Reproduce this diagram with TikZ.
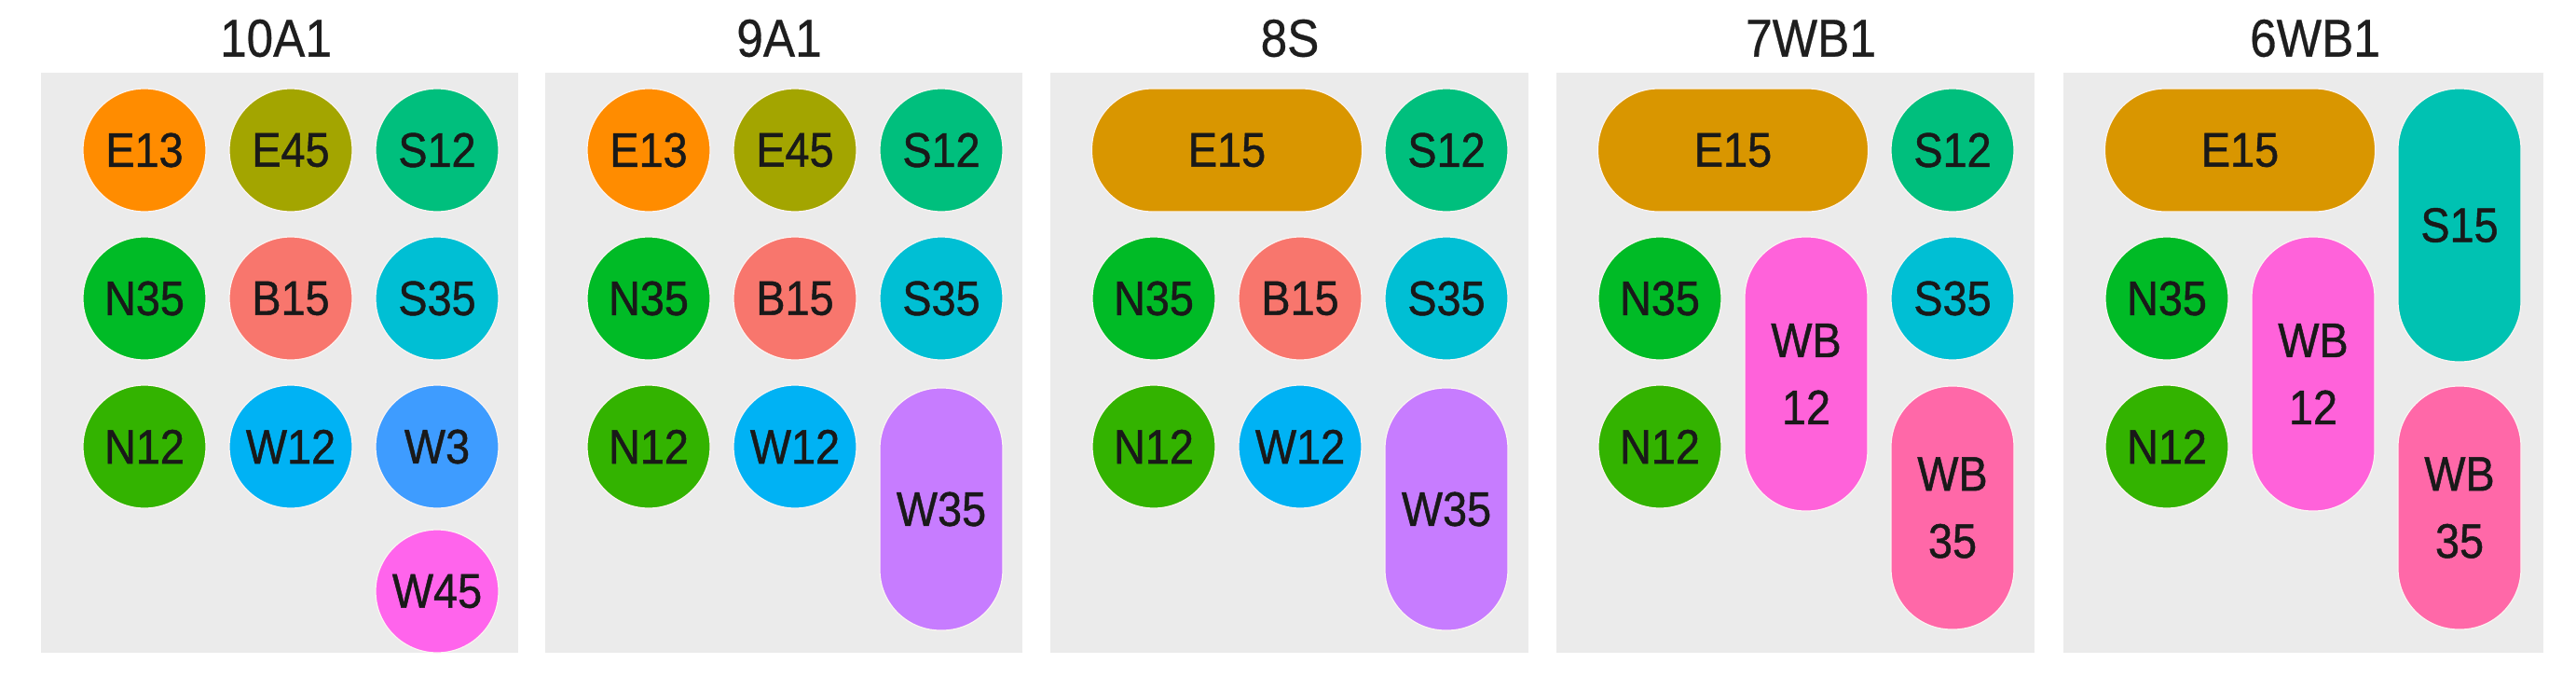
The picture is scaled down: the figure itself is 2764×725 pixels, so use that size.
\documentclass[tikz,border=0pt]{standalone}
\usepackage{fontspec}
\setmainfont{Liberation Sans}[FakeStretch=0.9]
\newfontfamily\lblfont{Liberation Sans}[FakeStretch=0.9, FakeBold=0.9]
\newfontfamily\ttlfont{Liberation Sans}[FakeStretch=0.9, FakeBold=0.5]
\definecolor{panelbg}{HTML}{EBEBEB}
\definecolor{cE13}{HTML}{FF8C00}
\definecolor{cE45}{HTML}{A3A500}
\definecolor{cS12}{HTML}{00BF7D}
\definecolor{cN35}{HTML}{00BB26}
\definecolor{cN12}{HTML}{33B300}
\definecolor{cB15}{HTML}{F8766D}
\definecolor{cS35}{HTML}{00BFD4}
\definecolor{cW12}{HTML}{00B2F4}
\definecolor{cW3}{HTML}{3E9CFF}
\definecolor{cW45}{HTML}{FF64EC}
\definecolor{cW35}{HTML}{C77CFF}
\definecolor{cE15}{HTML}{D99600}
\definecolor{cWB12}{HTML}{FF62DA}
\definecolor{cWB35}{HTML}{FF68A8}
\definecolor{cS15}{HTML}{00C2B2}
\definecolor{titlegray}{HTML}{1E1E1E}
\definecolor{halo}{HTML}{FBF4F2}
\tikzset{
  disc/.style={circle, fill=#1, draw=halo, line width=0.6pt, minimum size=66pt, inner sep=0pt,
    font=\lblfont\fontsize{26pt}{35pt}\selectfont, text=black!90},
  hpill/.style={rectangle, rounded corners=32.5pt, fill=#1, draw=halo, line width=0.6pt,
    minimum width=145pt, minimum height=66pt, inner sep=0pt,
    font=\lblfont\fontsize{26pt}{35pt}\selectfont, text=black!90},
  vpill/.style={rectangle, rounded corners=32.5pt, fill=#1, draw=halo, line width=0.6pt,
    minimum width=66pt, inner sep=0pt, align=center,
    font=\lblfont\fontsize{26pt}{36pt}\selectfont, text=black!90},
  ptitle/.style={font=\ttlfont\fontsize{28.5pt}{34pt}\selectfont, text=titlegray, inner sep=0pt},
}
\begin{document}
\begin{tikzpicture}[x=0.5pt, y=-0.5pt]
\useasboundingbox (0,0) rectangle (2764,725);
\fill[white] (0,0) rectangle (2764,725);
% panels
\fill[panelbg] (44,78) rectangle (556,700);
\fill[panelbg] (585,78) rectangle (1097,700);
\fill[panelbg] (1127,78) rectangle (1640,700);
\fill[panelbg] (1670,78) rectangle (2183,700);
\fill[panelbg] (2214,78) rectangle (2729,700);
% titles
\node[ptitle] (t1) at (296,41) {10A1};
\node[ptitle] (t2) at (836,41) {9A1};
\node[ptitle] (t3) at (1384,41) {8S};
\node[ptitle] (t4) at (1943,41) {7WB1};
\node[ptitle] (t5) at (2484,41) {6WB1};
% panel 1: 10A1
\node[disc=cE13] (a1) at (155,161) {E13};
\node[disc=cE45] (a2) at (312,161) {E45};
\node[disc=cS12] (a3) at (469,161) {S12};
\node[disc=cN35] (a4) at (155,320) {N35};
\node[disc=cB15] (a5) at (312,320) {B15};
\node[disc=cS35] (a6) at (469,320) {S35};
\node[disc=cN12] (a7) at (155,479) {N12};
\node[disc=cW12] (a8) at (312,479) {W12};
\node[disc=cW3]  (a9) at (469,479) {W3};
\node[disc=cW45] (a10) at (469,634) {W45};
% panel 2: 9A1
\node[disc=cE13] (b1) at (696,161) {E13};
\node[disc=cE45] (b2) at (853,161) {E45};
\node[disc=cS12] (b3) at (1010,161) {S12};
\node[disc=cN35] (b4) at (696,320) {N35};
\node[disc=cB15] (b5) at (853,320) {B15};
\node[disc=cS35] (b6) at (1010,320) {S35};
\node[disc=cN12] (b7) at (696,479) {N12};
\node[disc=cW12] (b8) at (853,479) {W12};
\node[vpill=cW35, minimum height=130pt] (b9) at (1010,546) {W35};
% panel 3: 8S
\node[hpill=cE15] (c1) at (1316.5,161) {E15};
\node[disc=cS12] (c2) at (1552,161) {S12};
\node[disc=cN35] (c3) at (1238,320) {N35};
\node[disc=cB15] (c4) at (1395,320) {B15};
\node[disc=cS35] (c5) at (1552,320) {S35};
\node[disc=cN12] (c6) at (1238,479) {N12};
\node[disc=cW12] (c7) at (1395,479) {W12};
\node[vpill=cW35, minimum height=130pt] (c8) at (1552,546) {W35};
% panel 4: 7WB1
\node[hpill=cE15] (d1) at (1859.5,161) {E15};
\node[disc=cS12] (d2) at (2095,161) {S12};
\node[disc=cN35] (d3) at (1781,320) {N35};
\node[vpill=cWB12, minimum height=147pt] (d4) at (1938,401) {WB\\12};
\node[disc=cS35] (d5) at (2095,320) {S35};
\node[disc=cN12] (d6) at (1781,479) {N12};
\node[vpill=cWB35, minimum height=130.5pt] (d7) at (2095,544.5) {WB\\35};
% panel 5: 6WB1
\node[hpill=cE15] (e1) at (2403.5,161) {E15};
\node[vpill=cS15, minimum height=146.5pt] (e2) at (2639,241.5) {S15};
\node[disc=cN35] (e3) at (2325,320) {N35};
\node[vpill=cWB12, minimum height=147pt] (e4) at (2482,401) {WB\\12};
\node[disc=cN12] (e5) at (2325,479) {N12};
\node[vpill=cWB35, minimum height=130.5pt] (e6) at (2639,544.5) {WB\\35};
\end{tikzpicture}
\end{document}
